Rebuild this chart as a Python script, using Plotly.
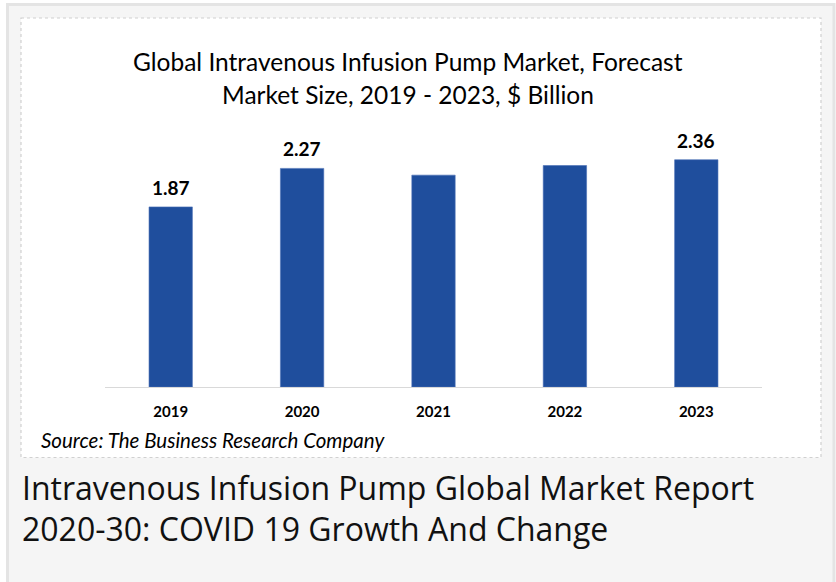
import plotly.graph_objects as go

years = ["2019", "2020", "2021", "2022", "2023"]
market_size = [1.87, 2.27, 2.20, 2.30, 2.36]
label_text = ["1.87", "2.27", "", "", "2.36"]

title_lines = ["Global Intravenous Infusion Pump Market, Forecast",
               "Market Size, 2019 - 2023, $ Billion"]
source_text = "Source: The Business Research Company"
caption_lines = ["Intravenous Infusion Pump Global Market Report",
                 "2020-30: COVID 19 Growth And Change"]

W, H = 836, 582
L, R, T, B = 105, 762, 140, 387   # plot area in pixels
PW, PH = R - L, B - T


def px(x):
    return (x - L) / PW


def py(y):
    return (B - y) / PH


CHART_FONT = "Lato, 'Open Sans', sans-serif"

fig = go.Figure()
fig.add_trace(go.Bar(
    x=years, y=market_size,
    marker=dict(color="#1F4E9D", line=dict(color="#4A6FB5", width=0.6)),
    hoverinfo="x+y",
))

annotations = []
for i, (v, t) in enumerate(zip(market_size, label_text)):
    if t:
        annotations.append(dict(x=i, y=v, xref="x", yref="y", text="<b>%s</b>" % t,
                                showarrow=False, yanchor="bottom", yshift=6,
                                font=dict(family=CHART_FONT, size=19, color="#000000")))

annotations.append(dict(x=px(408), y=py(62), xref="paper", yref="paper",
                        text=title_lines[0], showarrow=False, xanchor="center", yanchor="middle",
                        font=dict(family=CHART_FONT, size=24.5, color="#000000")))
annotations.append(dict(x=px(408), y=py(95), xref="paper", yref="paper",
                        text=title_lines[1], showarrow=False, xanchor="center", yanchor="middle",
                        font=dict(family=CHART_FONT, size=24.5, color="#000000")))
annotations.append(dict(x=px(39), y=py(440), xref="paper", yref="paper",
                        text="<i>%s</i>" % source_text, showarrow=False, xanchor="left", yanchor="middle",
                        font=dict(family=CHART_FONT, size=20.5, color="#000000")))
annotations.append(dict(x=px(20), y=py(487), xref="paper", yref="paper",
                        text=caption_lines[0], showarrow=False, xanchor="left", yanchor="middle",
                        font=dict(family="'Open Sans', sans-serif", size=32, color="#111111")))
annotations.append(dict(x=px(20), y=py(528), xref="paper", yref="paper",
                        text=caption_lines[1], showarrow=False, xanchor="left", yanchor="middle",
                        font=dict(family="'Open Sans', sans-serif", size=32, color="#111111")))

shapes = [
    dict(type="rect", xref="paper", yref="paper", layer="below",
         x0=px(7.5), x1=px(834), y0=py(4.5), y1=py(600),
         fillcolor="#F5F5F5", line=dict(color="#E4E4E4", width=3)),
    dict(type="rect", xref="paper", yref="paper", layer="below",
         x0=px(21), x1=px(821), y0=py(18), y1=py(457.5),
         fillcolor="#FFFFFF", line=dict(color="#D0D0D0", width=1.2, dash="dot")),
]

fig.update_layout(
    width=W, height=H,
    margin=dict(l=L, r=W - R, t=T, b=H - B, pad=0),
    paper_bgcolor="#FFFFFF",
    plot_bgcolor="rgba(0,0,0,0)",
    bargap=0.67,
    showlegend=False,
    annotations=annotations,
    shapes=shapes,
    xaxis=dict(type="category", range=[-0.5, len(years) - 0.5], autorange=False,
               showline=True, linecolor="#D9D9D9", linewidth=1,
               showgrid=False, ticks="outside", ticklen=11, tickcolor="rgba(0,0,0,0)",
               tickfont=dict(family=CHART_FONT, size=15, color="#000000", weight="bold"),
               fixedrange=True),
    yaxis=dict(range=[0, PH / 96.3], autorange=False, visible=False, showgrid=False,
               fixedrange=True),
)

fig.write_html("out.html", config={"displayModeBar": False},
               post_script="document.body.style.margin='0';document.body.style.overflow='hidden';")
